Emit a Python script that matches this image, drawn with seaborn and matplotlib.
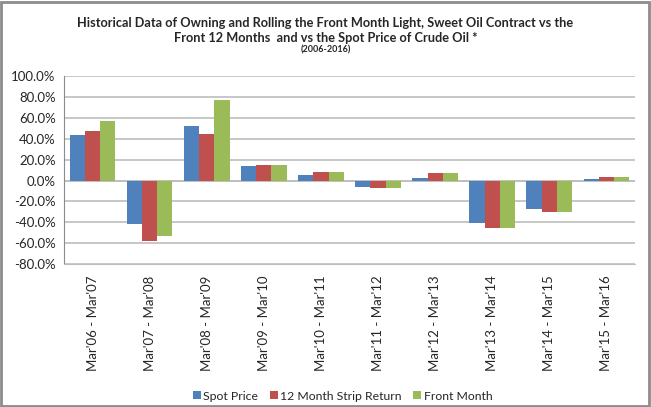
import numpy as np
import pandas as pd
import matplotlib
matplotlib.use("Agg")
import matplotlib.pyplot as plt
from matplotlib.patches import Rectangle
from matplotlib.lines import Line2D
from matplotlib.ticker import FuncFormatter
import seaborn as sns

sns.set_style("white")
plt.rcParams['font.family'] = ['Lato', 'DejaVu Sans']

periods = ["Mar'06 - Mar'07", "Mar'07 - Mar'08", "Mar'08 - Mar'09", "Mar'09 - Mar'10",
           "Mar'10 - Mar'11", "Mar'11 - Mar'12", "Mar'12 - Mar'13", "Mar'13 - Mar'14",
           "Mar'14 - Mar'15", "Mar'15 - Mar'16"]
spot_price = [43.8, -41.6, 52.1, 14.0, 5.7, -5.7, 2.5, -40.6, -27.3, 1.9]
strip_return = [47.3, -57.5, 44.4, 15.2, 8.3, -7.0, 7.0, -45.7, -30.5, 3.2]
front_month = [57.1, -52.7, 77.5, 15.2, 8.3, -7.0, 7.0, -45.7, -30.5, 3.2]
series_names = ["Spot Price", "12 Month Strip Return", "Front Month"]
colors = ["#4F81BD", "#C0504D", "#9BBB59"]

df = pd.DataFrame({
    "Period": periods * 3,
    "Series": np.repeat(series_names, len(periods)),
    "Return": spot_price + strip_return + front_month,
})

fig = plt.figure(figsize=(6.51, 4.07), dpi=100)
ax = fig.add_axes([0.0983, 0.351, 0.8771, 0.462])

sns.barplot(data=df, x="Period", y="Return", hue="Series", palette=colors,
            width=0.8, gap=0, ax=ax, errorbar=None, linewidth=0, saturation=1, zorder=3)

ax.set_ylim(-80, 100)
ax.set_yticks(np.arange(-80, 101, 20))
ax.yaxis.set_major_formatter(FuncFormatter(lambda v, p: '{0:.1f}%'.format(v)))
ax.set_xlim(-0.5, len(periods) - 0.5)
ax.grid(axis='y', color='#BEBEBE', linewidth=1.2, zorder=0)
ax.axhline(0, color='#BEBEBE', linewidth=1.2, zorder=1)
ax.set_xlabel('')
ax.set_ylabel('')
for s in ['top', 'right']:
    ax.spines[s].set_visible(False)
ax.spines['left'].set_color('#8C8C8C')
ax.spines['bottom'].set_color('#BEBEBE')
ax.tick_params(axis='y', labelsize=9.5, length=0, pad=6)
ax.tick_params(axis='x', labelsize=9.5, length=0, pad=8)
plt.setp(ax.get_xticklabels(), rotation=90)

ax.legend_.remove()
handles = [Line2D([], [], linestyle='none', marker='s', markersize=5.5,
                  markerfacecolor=c, markeredgewidth=0) for c in colors]
fig.legend(handles, series_names, loc='center', bbox_to_anchor=(0.527, 0.027), ncol=3,
           frameon=False, fontsize=8.8, handlelength=0.5,
           handletextpad=0.3, columnspacing=1.0)

fig.text(0.5, 0.944, "Historical Data of Owning and Rolling the Front Month Light, Sweet Oil Contract vs the",
         ha='center', va='center', fontsize=9.2, fontweight='bold')
fig.text(0.5, 0.907, "Front 12 Months  and vs the Spot Price of Crude Oil *",
         ha='center', va='center', fontsize=9.2, fontweight='bold')
fig.text(0.5, 0.877, "(2006-2016)", ha='center', va='center', fontsize=6.5, fontweight='bold')

fig.patches.append(Rectangle((0.001, 0.002), 0.996, 0.994, transform=fig.transFigure,
                             fill=False, edgecolor='#8C8C8C', linewidth=2))

fig.savefig('out.png', dpi=100, facecolor='white')
